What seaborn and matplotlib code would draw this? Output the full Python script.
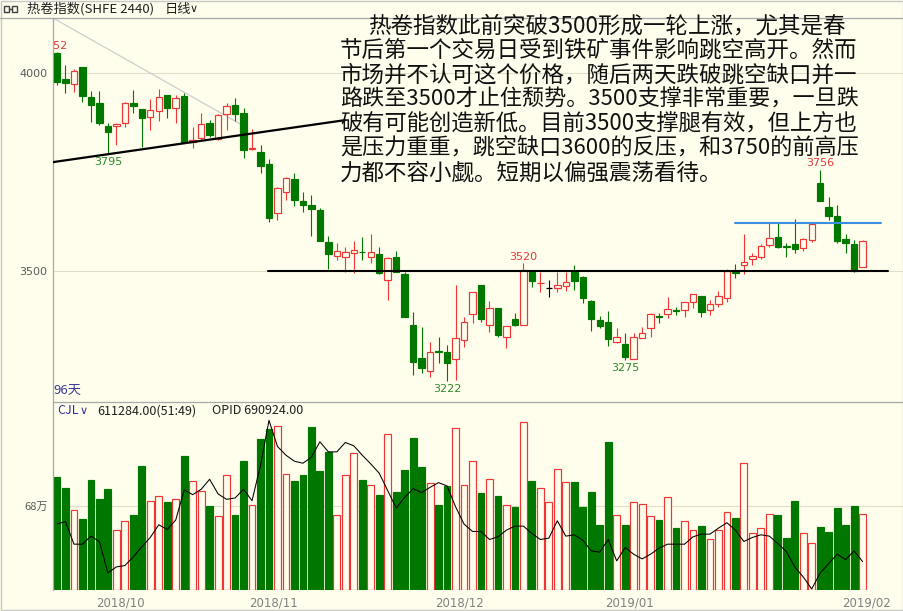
import matplotlib
matplotlib.use("Agg")
import matplotlib.pyplot as plt
import numpy as np
import seaborn as sns
from matplotlib.patches import Rectangle
from matplotlib.lines import Line2D

# ---- daily bars: HRC index (SHFE), one entry per trading day ----
opens = [4050, 3985, 3972, 4015, 3939, 3924, 3866, 3866, 3874, 3924,
         3909, 3889, 3904, 3944, 3912, 3942, 3826, 3836, 3874, 3833,
         3896, 3919, 3899, 3808, 3801, 3770, 3646, 3700, 3732, 3677,
         3667, 3654, 3573, 3538, 3535, 3545, 3549, 3535, 3543, 3477,
         3535, 3492, 3364, 3280, 3248, 3297, 3296, 3277, 3326, 3392,
         3465, 3364, 3407, 3333, 3379, 3364, 3497, 3469, 3457, 3457,
         3462, 3497, 3485, 3424, 3376, 3371, 3321, 3316, 3277, 3331,
         3356, 3386, 3392, 3402, 3402, 3422, 3437, 3402, 3417, 3432,
         3497, 3515, 3530, 3535, 3566, 3586, 3562, 3568, 3558, 3578,
         3722, 3662, 3639, 3581, 3568, 3510]
highs = [4052, 4020, 4010, 4015, 3955, 3955, 3874, 3874, 3927, 3957,
         3909, 3934, 3960, 3944, 3944, 3950, 3864, 3899, 3881, 3896,
         3924, 3937, 3912, 3859, 3818, 3783, 3712, 3737, 3748, 3700,
         3692, 3659, 3588, 3571, 3561, 3576, 3586, 3593, 3561, 3535,
         3551, 3497, 3396, 3359, 3321, 3333, 3313, 3465, 3384, 3447,
         3465, 3424, 3407, 3361, 3394, 3520, 3497, 3497, 3477, 3497,
         3497, 3515, 3487, 3427, 3386, 3399, 3356, 3343, 3343, 3359,
         3394, 3394, 3434, 3409, 3422, 3442, 3437, 3427, 3449, 3505,
         3518, 3593, 3545, 3568, 3621, 3621, 3571, 3631, 3583, 3621,
         3756, 3687, 3667, 3593, 3578, 3578]
lows = [3970, 3950, 3952, 3927, 3876, 3869, 3795, 3818, 3864, 3899,
        3813, 3856, 3879, 3886, 3874, 3826, 3811, 3831, 3838, 3831,
        3856, 3879, 3785, 3806, 3748, 3624, 3629, 3679, 3664, 3649,
        3588, 3576, 3505, 3528, 3497, 3495, 3528, 3520, 3492, 3427,
        3497, 3384, 3237, 3243, 3232, 3268, 3222, 3226, 3308, 3369,
        3371, 3346, 3333, 3306, 3361, 3364, 3460, 3447, 3434, 3447,
        3449, 3452, 3419, 3349, 3356, 3311, 3318, 3275, 3277, 3331,
        3333, 3369, 3381, 3389, 3384, 3407, 3384, 3389, 3409, 3422,
        3482, 3492, 3515, 3530, 3561, 3558, 3535, 3545, 3551, 3573,
        3677, 3629, 3571, 3545, 3497, 3510]
closes = [3977, 3975, 4005, 3942, 3919, 3874, 3851, 3871, 3924, 3917,
          3886, 3907, 3939, 3912, 3937, 3826, 3831, 3871, 3843, 3894,
          3917, 3896, 3806, 3811, 3765, 3634, 3710, 3735, 3679, 3667,
          3657, 3576, 3543, 3551, 3548, 3553, 3547, 3548, 3495, 3533,
          3497, 3384, 3270, 3255, 3296, 3295, 3268, 3331, 3371, 3447,
          3379, 3407, 3338, 3361, 3364, 3503, 3475, 3471, 3457, 3465,
          3472, 3475, 3432, 3379, 3361, 3328, 3333, 3283, 3333, 3343,
          3392, 3384, 3404, 3400, 3422, 3442, 3397, 3417, 3437, 3500,
          3495, 3523, 3538, 3563, 3583, 3561, 3560, 3556, 3581, 3619,
          3677, 3639, 3576, 3571, 3500, 3576]
volumes = [909000, 823000, 640000, 567000, 890000, 729000, 815000, 483000, 553000, 602000,
           998000, 720000, 758000, 712000, 734000, 1077000, 882000, 801000, 678000, 599000,
           931000, 607000, 1042000, 688000, 1220000, 1301000, 1325000, 936000, 882000, 923000,
           1319000, 958000, 1111000, 605000, 931000, 1106000, 890000, 847000, 766000, 1255000,
           788000, 966000, 1225000, 993000, 866000, 682000, 842000, 1309000, 847000, 1042000,
           780000, 896000, 761000, 686000, 664000, 1357000, 882000, 820000, 712000, 977000,
           872000, 872000, 664000, 788000, 526000, 1193000, 607000, 526000, 712000, 691000,
           596000, 561000, 750000, 499000, 553000, 483000, 518000, 410000, 478000, 631000,
           575000, 1028000, 461000, 499000, 615000, 602000, 418000, 720000, 461000, 375000,
           504000, 469000, 656000, 526000, 678000, 611284]
open_interest = [747000, 751000, 717000, 717000, 729000, 721000, 674000, 683000, 685000, 698000,
                 713000, 727000, 746000, 739000, 753000, 798000, 791000, 799000, 814000, 792000,
                 784000, 786000, 799000, 782000, 835000, 902000, 863000, 850000, 841000, 838000,
                 847000, 870000, 855000, 855000, 869000, 864000, 850000, 837000, 823000, 797000,
                 771000, 787000, 800000, 794000, 802000, 809000, 804000, 773000, 747000, 736000,
                 736000, 724000, 728000, 738000, 744000, 744000, 733000, 724000, 726000, 752000,
                 729000, 731000, 723000, 707000, 705000, 724000, 692000, 712000, 702000, 695000,
                 702000, 711000, 717000, 717000, 717000, 728000, 732000, 732000, 741000, 749000,
                 738000, 721000, 727000, 731000, 729000, 718000, 706000, 683000, 668000, 650000,
                 674000, 688000, 702000, 694000, 707000, 690924]
month_pos = [7.5, 25.5, 47.5, 67.5, 95.4]
month_labels = ["2018/10", "2018/11", "2018/12", "2019/01", "2019/02"]

# hand-drawn study lines: (x0, x1) in bar units, (y0, y1) in price
rising_support = ([-0.47, 33.96], [3775, 3881])
falling_guide = ([-0.47, 22.2], [4139, 3864])
support_3500 = ([24.9, 98.0], [3500, 3500])
resistance_gap = ([80.0, 97.2], [3622, 3622])

# extreme-value marks: (bar index, "high"/"low")
marks = [(0, "high"), (6, "low"), (46, "low"), (55, "high"), (67, "low"), (90, "high")]

note_lines = [
    "热卷指数此前突破3500形成一轮上涨，尤其是春",
    "节后第一个交易日受到铁矿事件影响跳空高开。然而",
    "市场并不认可这个价格，随后两天跌破跳空缺口并一",
    "路跌至3500才止住颓势。3500支撑非常重要，一旦跌",
    "破有可能创造新低。目前3500支撑腿有效，但上方也",
    "是压力重重，跳空缺口3600的反压，和3750的前高压",
    "力都不容小觑。短期以偏强震荡看待。",
]

BG = "#fffdeb"
UP = "#f03535"
DOWN = "#007800"
UP_TXT = "#e03a3a"
DOWN_TXT = "#2a8a2a"
GRID = "#e2ddc8"
FRAME = "#a8a8a8"

sns.set_theme(style="white", rc={"axes.facecolor": BG, "figure.facecolor": BG})
plt.rcParams["font.family"] = ["Noto Sans CJK SC", "DejaVu Sans"]

W, H = 904, 611
fig = plt.figure(figsize=(W / 100, H / 100), dpi=100, facecolor=BG)


def fx(px):
    return px / W


def fy(py):
    return 1 - py / H


ax = fig.add_axes([fx(53), fy(402), fx(904) - fx(53), fy(18) - fy(402)])
axv = fig.add_axes([fx(53), fy(590), fx(904) - fx(53), fy(402) - fy(590)])
for a in (ax, axv):
    a.set_facecolor(BG)
    a.set_xlim(-0.47, 99.88)
    for s in a.spines.values():
        s.set_visible(False)
    a.spines["left"].set_visible(True)
    a.spines["left"].set_color(FRAME)
    a.spines["left"].set_linewidth(0.9)

ax.set_ylim(3169.3, 4138.9)
axv.set_ylim(-4000, 1518000)

n = len(opens)
idx = np.arange(n)
bw = 0.76

# ---- price panel ----
ax.axhline(4000, color=GRID, lw=0.8, zorder=0)
ax.axhline(3500, color=GRID, lw=0.8, zorder=0)
for i in range(n):
    o, h, l, c = opens[i], highs[i], lows[i], closes[i]
    if c > o:
        col = UP
    elif c < o:
        col = DOWN
    else:
        col = "black"
    ax.vlines(i, l, h, color=col, lw=0.8, zorder=2)
    lo, hi = min(o, c), max(o, c)
    if c > o:
        ax.add_patch(Rectangle((i - bw / 2, lo), bw, hi - lo, facecolor=BG,
                               edgecolor=col, lw=0.85, zorder=3))
    elif c < o:
        ax.add_patch(Rectangle((i - bw / 2, lo), bw, hi - lo, facecolor=col,
                               edgecolor=col, lw=0.85, zorder=3))
    else:
        ax.hlines(o, i - bw / 2, i + bw / 2, color=col, lw=0.9, zorder=3)

ax.plot(*falling_guide, color="#cfcfcf", lw=0.9, zorder=1)
ax.plot(*rising_support, color="black", lw=1.6, zorder=4)
ax.plot(*support_3500, color="black", lw=1.5, zorder=4)
ax.plot(*resistance_gap, color="#3a8ee0", lw=1.5, zorder=4)

for i, kind in marks:
    # the first bar's label sits half outside the panel and is clipped by it
    dx = -2.2 if i == 0 else 0
    if kind == "high":
        ax.annotate(f"{highs[i]}", (i, highs[i]), xytext=(dx, 1.0), textcoords="offset points",
                    ha="center", va="bottom", color=UP_TXT, fontsize=8,
                    family=["DejaVu Sans"], annotation_clip=False, clip_on=True)
    else:
        ax.annotate(f"{lows[i]}", (i, lows[i]), xytext=(dx, -2), textcoords="offset points",
                    ha="center", va="top", color=DOWN_TXT, fontsize=8,
                    family=["DejaVu Sans"], annotation_clip=False, clip_on=True)

ax.set_yticks([3500, 4000])
ax.set_yticklabels(["3500", "4000"])
ax.set_xticks([])
ax.tick_params(axis="y", length=0, pad=4, labelsize=8, labelcolor="#5a5a5a")
for t in ax.get_yticklabels():
    t.set_family(["DejaVu Sans"])

ax.text(0.0, 0.012, "96天", transform=ax.transAxes, color="#3a3a9a", fontsize=9.5,
        ha="left", va="bottom")

# ---- volume panel ----
axv.axhline(680000, color=GRID, lw=0.8, zorder=0)
vol_up = [c >= o for o, c in zip(opens, closes)]
face = [BG if u else DOWN for u in vol_up]
edge = [UP if u else DOWN for u in vol_up]
axv.bar(idx, volumes, width=0.8, color=face, edgecolor=edge, linewidth=0.85, zorder=2)
axv.set_yticks([680000])
axv.set_yticklabels(["68万"])
axv.tick_params(axis="y", length=0, pad=4, labelsize=8, labelcolor="#5a5a5a")
axv.set_xticks(month_pos)
axv.set_xticklabels(month_labels)
axv.tick_params(axis="x", length=0, pad=5, labelsize=8.5, labelcolor="#808080")
for t in axv.get_xticklabels():
    t.set_family(["DejaVu Sans"])

axo = axv.twinx()
sns.lineplot(x=idx, y=open_interest, ax=axo, color="black", lw=0.75, zorder=5)
axo.set_ylim(648500, 929500)
axo.set_xlim(-0.47, 99.88)
axo.axis("off")

fig.text(fx(57), fy(411), "CJL", color="#3030a0", fontsize=9, va="center", ha="left")
fig.text(fx(80), fy(411), "∨", color="#3030a0", fontsize=8, va="center", ha="left",
         family=["DejaVu Sans"])
fig.text(fx(97), fy(411), "611284.00(51:49)", color="#202020", fontsize=9, va="center", ha="left")
fig.text(fx(212), fy(411), "OPID 690924.00", color="#202020", fontsize=9, va="center", ha="left")

# ---- header strip ----
fig.add_artist(Line2D([0, 1], [fy(18), fy(18)], color=FRAME, lw=0.9))
fig.add_artist(Line2D([fx(53), 1], [fy(402), fy(402)], color=FRAME, lw=0.9))
fig.add_artist(Rectangle((fx(4), fy(12)), fx(5), fy(6) - fy(12), transform=fig.transFigure,
                         fill=False, edgecolor="#404040", lw=1))
fig.add_artist(Rectangle((fx(12), fy(12)), fx(5), fy(6) - fy(12), transform=fig.transFigure,
                         fill=False, edgecolor="#404040", lw=1))
fig.add_artist(Line2D([fx(9), fx(12)], [fy(9), fy(9)], color="#404040", lw=1))
fig.text(fx(27), fy(9), "热卷指数(SHFE 2440)", color="#202020", fontsize=9.5, va="center", ha="left")
fig.text(fx(165), fy(9), "日线", color="#202020", fontsize=9.5, va="center", ha="left")
fig.text(fx(190), fy(9.5), "∨", color="#202020", fontsize=8, va="center", ha="left",
         family=["DejaVu Sans"])

# ---- commentary: a justified block whose right edge is at x = 858 px ----
renderer = fig.canvas.get_renderer()
base_fs = 16.2
for k, line in enumerate(note_lines):
    x0 = 368 if k == 0 else 340
    t = fig.text(fx(x0), fy(26 + 24.5 * k), line, color="#111111", fontsize=base_fs,
                 va="center", ha="left")
    width = t.get_window_extent(renderer).width
    room = 858 - x0
    if width > room:
        t.set_fontsize(base_fs * room / width)

fig.add_artist(Rectangle((fx(0.5), fy(609.5)), fx(903), fy(0.5) - fy(609.5),
                         transform=fig.transFigure, fill=False, edgecolor="#c8c8c8", lw=1))

fig.savefig("out.png", dpi=100, facecolor=BG)
